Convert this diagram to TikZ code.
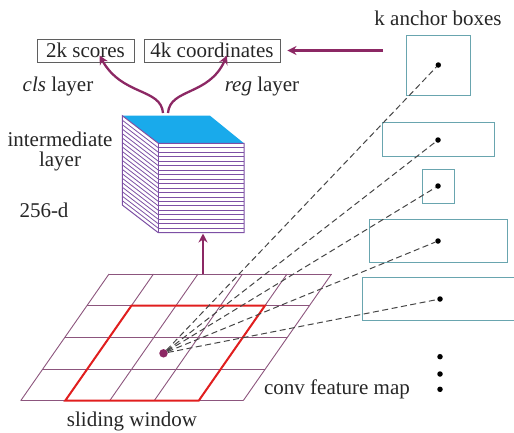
\documentclass[tikz,border=0pt]{standalone}
\usepackage{fontspec}
\IfFontExistsTF{LiberationSerif-Regular.ttf}{%
  \newfontfamily\timesx{LiberationSerif}[Extension=.ttf,UprightFont=*-Regular,ItalicFont=*-Italic,BoldFont=*-Bold]%
  \def\fsz{21}}{%
  \newfontfamily\timesx{Latin Modern Roman}\def\fsz{19.5}}
\usetikzlibrary{arrows.meta}
\definecolor{arrowc}{RGB}{140,40,100}
\definecolor{gridc}{RGB}{140,85,125}
\definecolor{cubec}{RGB}{125,80,165}
\definecolor{topc}{RGB}{25,170,235}
\definecolor{anchc}{RGB}{105,165,175}
\definecolor{winc}{RGB}{225,30,30}
\definecolor{boxc}{RGB}{95,95,95}
\definecolor{dashc}{RGB}{70,70,70}
\tikzset{
  lbl/.style={font=\timesx\fontsize{\fsz}{24}\selectfont, inner sep=0pt, text=black!85},
  outbox/.style={draw=boxc, line width=0.9pt, font=\timesx\fontsize{\fsz}{24}\selectfont, inner sep=0pt, minimum height=23pt, text=black!85},
  anchorbox/.style={draw=anchc, line width=1pt},
  adot/.style={circle, fill=black, inner sep=0pt, minimum size=5.5pt},
  bigarrow/.style={draw=arrowc, line width=2.3pt, -{Stealth[length=9pt,width=9pt]}},
  dashl/.style={draw=dashc, line width=1pt, dash pattern=on 6pt off 3.5pt},
  gridl/.style={draw=gridc, line width=0.9pt},
  cubel/.style={draw=cubec, line width=0.8pt}
}
\begin{document}
\begin{tikzpicture}[x=1pt,y=-1pt]
\useasboundingbox (0,0) rectangle (514,432);

% output boxes
\node[outbox, minimum width=97pt] (scores) at (85.5,50.5) {2k scores};
\node[outbox, minimum width=136pt] (coords) at (212,50.5) {4k coordinates};
\node[lbl] (cls) at (58,86) {\textit{cls} layer};
\node[lbl] (reg) at (262,86) {\textit{reg} layer};

% left labels
\node[lbl] (inter) at (60,139) {intermediate};
\node[lbl] (layer) at (60,161) {layer};
\node[lbl] (dim) at (44,210) {256-d};
\node[lbl] (slide) at (132,421) {sliding window};
\node[lbl] (conv) at (337,389) {conv feature map};
\node[lbl] (kanch) at (438,18) {k anchor boxes};

% cube
\fill[topc] (122.3,115.7) -- (210,115.7) -- (244,143.3) -- (158.3,143.3) -- cycle;
\fill[white] (158.3,143.3) rectangle (244,232.7);
\fill[white] (122.3,115.7) -- (158.3,143.3) -- (158.3,232.7) -- (122.3,205) -- cycle;
\foreach \k in {1,...,19}{
  \draw[cubel] (158.3,143.3+\k*4.47) -- (244,143.3+\k*4.47);
  \draw[cubel] (122.3,115.7+\k*4.47) -- (158.3,143.3+\k*4.47);
}
\draw[cubel, line width=1pt] (122.3,115.7) -- (158.3,143.3) -- (244,143.3) -- (244,232.7) -- (158.3,232.7) -- (122.3,205) -- cycle;
\draw[cubel, line width=1pt] (158.3,143.3) -- (158.3,232.7);
\coordinate (ctopl) at (163,113);
\coordinate (ctopr) at (168,113);
\coordinate (cbot) at (203,233.5);

% feature map grid
\foreach \j in {0,...,4}{
  \draw[gridl] (109-22.07*\j,274+31.67*\j) -- (331.5-22.07*\j,274+31.67*\j);
}
\foreach \i in {0,...,5}{
  \draw[gridl] (109+44.5*\i,274) -- (20.7+44.5*\i,400.7);
}
\draw[winc, line width=2pt, line join=miter] (131.4,305.7) -- (264.9,305.7) -- (198.7,400.7) -- (65.2,400.7) -- cycle;
\coordinate (gtop) at (203,274);
\node[circle, fill=arrowc, inner sep=0pt, minimum size=8.5pt] (sw) at (163.5,353.3) {};

% anchor boxes
\draw[anchorbox] (406.7,35) rectangle (470,95);
\draw[anchorbox] (382.3,122.7) rectangle (494.3,156.7);
\draw[anchorbox] (422.3,169.3) rectangle (454.3,203.3);
\draw[anchorbox] (369,219.3) rectangle (507.7,262);
\draw[anchorbox] (362.7,277.3) rectangle (518,320.7);
\node[adot] (a1) at (438.3,65) {};
\node[adot] (a2) at (438,140) {};
\node[adot] (a3) at (438,186) {};
\node[adot] (a4) at (438,241) {};
\node[adot] (a5) at (440,299) {};
\node[adot] (v1) at (440,356.7) {};
\node[adot] (v2) at (440,374) {};
\node[adot] (v3) at (440,389.3) {};

% dashed lines
\foreach \a in {a1,a2,a3,a4,a5}{
  \draw[dashl] (sw) -- (\a);
}

% arrows
\coordinate (astart) at (383,50.5);
\draw[bigarrow] (astart) -- ([xshift=7pt]coords.east);
\draw[bigarrow] (gtop) -- (cbot);
\draw[bigarrow] (ctopl) .. controls (161,88) and (122,96) .. ([xshift=14pt,yshift=7pt]scores.south);
\draw[bigarrow] (ctopr) .. controls (170,88) and (209,96) .. ([xshift=15pt,yshift=7pt]coords.south);
\end{tikzpicture}
\end{document}
